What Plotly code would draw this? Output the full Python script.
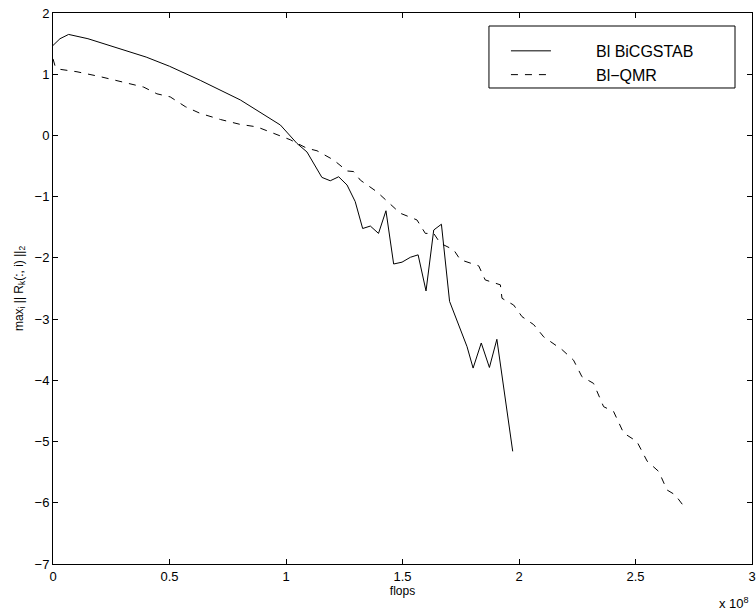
import plotly.graph_objects as go

# flops in units of 1e8
bicg_x = [0.0, 0.03, 0.067, 0.15, 0.40, 0.50, 0.632, 0.804, 0.976, 1.047, 1.09, 1.154, 1.19,
          1.226, 1.262, 1.297, 1.329, 1.362, 1.397, 1.429, 1.462, 1.498, 1.534, 1.567, 1.601,
          1.634, 1.667, 1.702, 1.777, 1.803, 1.838, 1.873, 1.905, 1.973]
bicg_y = [1.47, 1.58, 1.65, 1.58, 1.28, 1.13, 0.90, 0.58, 0.17, -0.13, -0.27, -0.685, -0.74,
          -0.675, -0.81, -1.08, -1.52, -1.48, -1.60, -1.23, -2.10, -2.07, -1.99, -1.95, -2.54,
          -1.545, -1.45, -2.71, -3.45, -3.80, -3.39, -3.79, -3.33, -5.16]

qmr_x = [0.0, 0.01, 0.03, 0.103, 0.203, 0.346, 0.389, 0.446, 0.503, 0.568, 0.632, 0.719, 0.804,
         0.875, 0.947, 1.018, 1.09, 1.133, 1.204, 1.262, 1.29, 1.319, 1.39, 1.44, 1.49, 1.562,
         1.598, 1.634, 1.662, 1.72, 1.748, 1.827, 1.855, 1.92, 1.927, 1.977, 2.013, 2.063, 2.106,
         2.185, 2.234, 2.27, 2.32, 2.363, 2.406, 2.449, 2.506, 2.55, 2.60, 2.635, 2.67, 2.714]
qmr_y = [1.25, 1.12, 1.08, 1.04, 0.96, 0.82, 0.79, 0.68, 0.63, 0.47, 0.36, 0.26, 0.18,
         0.14, 0.04, -0.07, -0.21, -0.25, -0.40, -0.58, -0.59, -0.73, -0.92, -1.10, -1.27, -1.38,
         -1.60, -1.60, -1.76, -1.87, -2.03, -2.13, -2.36, -2.44, -2.66, -2.77, -2.96, -3.09, -3.29,
         -3.50, -3.67, -3.94, -4.05, -4.43, -4.51, -4.86, -5.00, -5.32, -5.49, -5.79, -5.87, -6.09]

x_ticks = [0, 0.5, 1, 1.5, 2, 2.5, 3]
x_tick_labels = ["0", "0.5", "1", "1.5", "2", "2.5", "3"]
y_ticks = [2, 1, 0, -1, -2, -3, -4, -5, -6, -7]
y_tick_labels = ["2", "1", "0", "\u22121", "\u22122", "\u22123", "\u22124", "\u22125", "\u22126", "\u22127"]

NB = "\u00a0"
fig = go.Figure()
fig.add_trace(go.Scatter(x=bicg_x, y=bicg_y, mode="lines",
                         name=NB * 9 + "Bl BiCGSTAB",
                         line=dict(color="black", width=1)))
fig.add_trace(go.Scatter(x=qmr_x, y=qmr_y, mode="lines",
                         name=NB * 9 + "Bl\u2212QMR",
                         line=dict(color="black", width=1, dash="7px,7px")))

font = "Liberation Sans, Arial, sans-serif"
axis_common = dict(showline=True, linecolor="black", linewidth=1, mirror="ticks",
                   ticks="inside", ticklen=5, tickcolor="black", showgrid=False,
                   zeroline=False, automargin=False,
                   tickfont=dict(family=font, size=13, color="black"))

# legend frame (drawn as a box, plotly legend sits inside it)
fig.add_shape(type="rect", xref="paper", yref="paper",
              x0=0.6237, x1=0.9757, y0=0.8639, y1=0.9764,
              line=dict(color="black", width=1), fillcolor="white", layer="above")

fig.update_layout(
    width=756, height=613,
    margin=dict(l=53, r=4, t=13, b=49),
    paper_bgcolor="white", plot_bgcolor="white",
    font=dict(family=font, color="black"),
    showlegend=True,
    legend=dict(x=0.648, y=0.962, xanchor="left", yanchor="top",
                borderwidth=0, bgcolor="rgba(0,0,0,0)",
                font=dict(family=font, size=16, color="black"),
                itemwidth=40, tracegroupgap=0),
    xaxis=dict(range=[0, 3], tickvals=x_ticks, ticktext=x_tick_labels,
               title=dict(text="flops", font=dict(family=font, size=12), standoff=2),
               **axis_common),
    yaxis=dict(range=[-7, 2], tickvals=y_ticks, ticktext=y_tick_labels,
               title=dict(text="max<sub>i</sub> || R<sub>k</sub>(:, i) ||<sub>2</sub>",
                          font=dict(family=font, size=12), standoff=8),
               **axis_common),
)
fig.add_annotation(text="x 10<sup>8</sup>", xref="paper", yref="paper", x=0.998, y=0,
                   xanchor="right", yanchor="top", yshift=-29, showarrow=False,
                   font=dict(family=font, size=13, color="black"))
fig.write_html("out.html", config={"displayModeBar": False},
               post_script="document.body.style.margin='0px';")
